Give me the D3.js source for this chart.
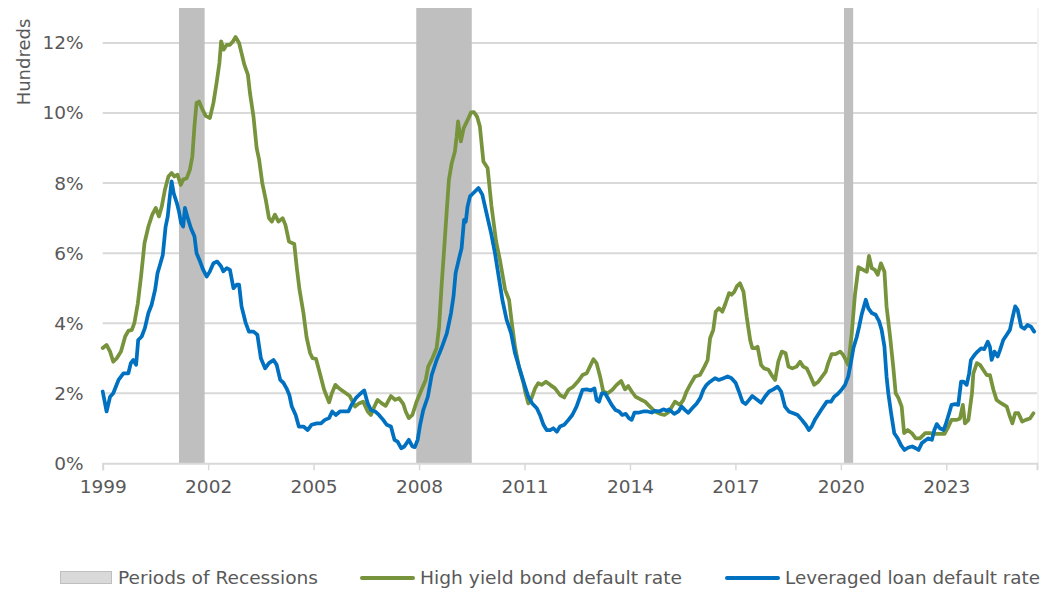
<!DOCTYPE html>
<html><head><meta charset="utf-8">
<script src="https://cdn.jsdelivr.net/npm/d3@7"></script>
<style>html,body{margin:0;padding:0;background:#fff;}svg{display:block;}</style>
</head><body>
<svg id="chart" width="1048" height="590"></svg>
<script>
// ---- data ----
const xTickYears = [1999, 2002, 2005, 2008, 2011, 2014, 2017, 2020, 2023];
const yTickValues = [0, 2, 4, 6, 8, 10, 12];
const recessionStarts = [2001.17, 2007.92, 2020.09];
const recessionEnds = [2001.9, 2009.5, 2020.35];
const legendLabels = ["Periods of Recessions", "High yield bond default rate", "Leveraged loan default rate"];

const hyYears = [1999.0,1999.11,1999.21,1999.3,1999.4,1999.52,1999.64,1999.73,1999.83,1999.9,2000.0,2000.09,2000.19,2000.3,2000.41,2000.51,2000.6,2000.68,2000.77,2000.87,2000.96,2001.04,2001.13,2001.22,2001.29,2001.39,2001.48,2001.55,2001.61,2001.67,2001.74,2001.84,2001.93,2002.05,2002.15,2002.24,2002.32,2002.37,2002.44,2002.53,2002.62,2002.71,2002.78,2002.88,2002.95,2003.03,2003.13,2003.19,2003.29,2003.38,2003.45,2003.54,2003.64,2003.73,2003.81,2003.9,2004.0,2004.12,2004.2,2004.3,2004.45,2004.52,2004.6,2004.71,2004.8,2004.9,2004.97,2005.07,2005.17,2005.3,2005.44,2005.52,2005.62,2005.75,2005.89,2006.03,2006.18,2006.29,2006.41,2006.54,2006.63,2006.73,2006.82,2006.94,2007.05,2007.2,2007.32,2007.43,2007.55,2007.62,2007.71,2007.81,2007.93,2008.07,2008.19,2008.26,2008.38,2008.5,2008.57,2008.64,2008.72,2008.79,2008.85,2008.93,2009.02,2009.07,2009.11,2009.19,2009.27,2009.38,2009.48,2009.56,2009.65,2009.73,2009.83,2009.95,2010.06,2010.19,2010.3,2010.45,2010.56,2010.64,2010.73,2010.84,2010.97,2011.03,2011.11,2011.2,2011.3,2011.39,2011.49,2011.61,2011.73,2011.87,2012.01,2012.13,2012.25,2012.39,2012.53,2012.65,2012.77,2012.86,2012.96,2013.05,2013.15,2013.24,2013.37,2013.5,2013.62,2013.75,2013.86,2013.95,2014.05,2014.16,2014.29,2014.43,2014.57,2014.71,2014.86,2014.98,2015.09,2015.14,2015.28,2015.42,2015.52,2015.61,2015.71,2015.85,2015.99,2016.12,2016.21,2016.28,2016.37,2016.44,2016.53,2016.63,2016.72,2016.82,2016.89,2016.97,2017.04,2017.13,2017.23,2017.32,2017.42,2017.48,2017.58,2017.63,2017.73,2017.82,2017.94,2018.03,2018.13,2018.22,2018.32,2018.43,2018.51,2018.62,2018.74,2018.84,2018.93,2019.03,2019.12,2019.24,2019.36,2019.47,2019.57,2019.64,2019.74,2019.85,2019.98,2020.07,2020.21,2020.31,2020.4,2020.5,2020.64,2020.74,2020.8,2020.88,2020.97,2021.05,2021.14,2021.24,2021.3,2021.4,2021.49,2021.56,2021.64,2021.73,2021.8,2021.9,2022.02,2022.13,2022.25,2022.4,2022.54,2022.68,2022.82,2022.95,2023.06,2023.15,2023.3,2023.39,2023.47,2023.53,2023.63,2023.73,2023.77,2023.87,2023.96,2024.05,2024.15,2024.24,2024.34,2024.43,2024.57,2024.72,2024.81,2024.88,2024.96,2025.05,2025.16,2025.26,2025.38,2025.48];
const hyRates = [3.29,3.38,3.19,2.9,3.0,3.19,3.62,3.78,3.81,4.0,4.57,5.33,6.29,6.76,7.1,7.29,7.05,7.33,7.81,8.19,8.29,8.19,8.24,7.95,8.1,8.14,8.38,8.76,9.62,10.29,10.33,10.1,9.92,9.86,10.29,10.86,11.43,12.05,11.81,11.95,11.95,12.05,12.17,12.0,11.71,11.38,11.1,10.57,9.9,9.0,8.67,8.0,7.52,7.0,6.9,7.1,6.9,7.0,6.8,6.33,6.26,5.6,4.95,4.3,3.6,3.15,3.0,2.98,2.6,2.1,1.74,2.0,2.24,2.12,2.02,1.92,1.62,1.71,1.76,1.48,1.38,1.62,1.81,1.71,1.64,1.92,1.81,1.86,1.7,1.48,1.29,1.38,1.76,2.1,2.38,2.76,3.0,3.29,3.9,5.05,6.2,7.24,8.1,8.57,8.9,9.33,9.76,9.19,9.57,9.8,10.02,10.03,9.9,9.62,8.62,8.43,7.35,6.35,5.81,4.95,4.67,4.0,3.33,2.76,2.29,2.0,1.71,1.86,2.14,2.29,2.24,2.33,2.24,2.14,1.95,1.88,2.1,2.19,2.35,2.52,2.57,2.76,2.97,2.86,2.48,2.05,2.0,2.1,2.24,2.35,2.11,2.21,2.05,1.9,1.83,1.76,1.62,1.48,1.41,1.38,1.45,1.52,1.76,1.67,1.81,2.05,2.24,2.48,2.52,2.76,2.95,3.57,3.81,4.33,4.43,4.33,4.57,4.86,4.81,4.9,5.05,5.14,4.9,4.19,3.52,3.29,3.29,3.33,2.81,2.71,2.67,2.52,2.38,2.9,3.19,3.14,2.76,2.71,2.76,2.9,2.76,2.71,2.52,2.24,2.33,2.48,2.62,2.86,3.12,3.12,3.19,3.09,2.81,3.71,4.8,5.6,5.52,5.47,5.92,5.57,5.52,5.38,5.71,5.47,4.48,3.62,2.76,2.0,1.86,1.62,0.86,0.95,0.86,0.71,0.71,0.86,0.86,0.84,0.84,0.84,1.05,1.24,1.24,1.28,1.67,1.14,1.24,2.0,2.57,2.86,2.81,2.67,2.52,2.52,2.1,1.81,1.71,1.62,1.33,1.14,1.43,1.43,1.19,1.24,1.28,1.43];

const llYears = [1999.0,1999.11,1999.21,1999.3,1999.45,1999.59,1999.73,1999.8,1999.87,1999.95,2000.01,2000.11,2000.2,2000.3,2000.39,2000.49,2000.56,2000.63,2000.71,2000.79,2000.85,2000.91,2000.96,2001.02,2001.11,2001.17,2001.23,2001.29,2001.34,2001.42,2001.51,2001.61,2001.67,2001.77,2001.86,2001.96,2002.05,2002.15,2002.26,2002.37,2002.43,2002.53,2002.62,2002.72,2002.81,2002.88,2002.95,2003.07,2003.16,2003.29,2003.4,2003.5,2003.62,2003.73,2003.86,2003.95,2004.05,2004.14,2004.23,2004.31,2004.38,2004.49,2004.58,2004.71,2004.83,2004.94,2005.09,2005.21,2005.32,2005.44,2005.53,2005.63,2005.75,2005.87,2005.99,2006.08,2006.2,2006.32,2006.44,2006.54,2006.63,2006.75,2006.86,2006.98,2007.08,2007.2,2007.3,2007.39,2007.49,2007.58,2007.71,2007.81,2007.88,2007.96,2008.03,2008.12,2008.25,2008.36,2008.5,2008.64,2008.79,2008.91,2008.98,2009.04,2009.14,2009.21,2009.28,2009.33,2009.38,2009.45,2009.54,2009.69,2009.8,2009.92,2010.05,2010.16,2010.28,2010.37,2010.49,2010.62,2010.73,2010.87,2011.0,2011.11,2011.22,2011.35,2011.44,2011.54,2011.63,2011.73,2011.82,2011.92,2012.01,2012.13,2012.25,2012.36,2012.48,2012.58,2012.65,2012.77,2012.89,2012.99,2013.05,2013.12,2013.2,2013.29,2013.39,2013.48,2013.59,2013.69,2013.78,2013.88,2013.97,2014.05,2014.13,2014.26,2014.38,2014.5,2014.62,2014.71,2014.82,2014.95,2015.07,2015.11,2015.26,2015.38,2015.47,2015.57,2015.66,2015.77,2015.9,2016.0,2016.09,2016.18,2016.28,2016.42,2016.53,2016.66,2016.78,2016.89,2017.01,2017.1,2017.2,2017.29,2017.39,2017.48,2017.6,2017.73,2017.84,2017.96,2018.08,2018.2,2018.3,2018.41,2018.53,2018.65,2018.77,2018.89,2019.0,2019.09,2019.17,2019.26,2019.38,2019.47,2019.6,2019.72,2019.81,2019.91,2020.02,2020.12,2020.21,2020.29,2020.36,2020.45,2020.52,2020.59,2020.71,2020.78,2020.88,2020.99,2021.09,2021.16,2021.24,2021.3,2021.35,2021.43,2021.52,2021.62,2021.71,2021.81,2021.92,2022.03,2022.13,2022.21,2022.3,2022.4,2022.49,2022.59,2022.66,2022.73,2022.82,2022.92,2022.98,2023.08,2023.15,2023.25,2023.34,2023.42,2023.49,2023.58,2023.65,2023.7,2023.8,2023.89,2023.99,2024.08,2024.18,2024.24,2024.29,2024.37,2024.46,2024.53,2024.62,2024.72,2024.81,2024.88,2024.96,2025.03,2025.13,2025.22,2025.31,2025.41,2025.5];
const llRates = [2.05,1.48,1.9,2.0,2.38,2.57,2.57,2.86,2.95,2.81,3.52,3.62,3.86,4.29,4.52,4.95,5.43,5.67,5.95,6.76,7.05,7.62,8.05,7.71,7.43,7.19,6.86,6.76,7.29,7.0,6.71,6.48,6.0,5.76,5.52,5.33,5.48,5.71,5.76,5.62,5.48,5.57,5.52,5.0,5.1,5.1,4.48,4.0,3.76,3.76,3.67,3.0,2.71,2.86,2.95,2.81,2.38,2.3,2.14,1.95,1.62,1.38,1.05,1.05,0.95,1.1,1.14,1.14,1.24,1.29,1.48,1.38,1.48,1.48,1.48,1.67,1.86,1.98,2.08,1.71,1.52,1.48,1.38,1.24,1.1,1.05,0.67,0.62,0.43,0.48,0.67,0.48,0.46,0.67,1.1,1.52,1.9,2.52,2.95,3.29,3.71,4.29,4.76,5.43,5.86,6.14,6.95,6.9,7.33,7.62,7.71,7.86,7.67,7.14,6.57,6.0,5.24,4.67,4.1,3.71,3.14,2.67,2.24,1.9,1.71,1.57,1.38,1.1,0.95,0.95,1.0,0.9,1.05,1.1,1.24,1.38,1.62,1.9,2.1,2.11,2.08,2.14,1.81,1.76,2.0,2.0,1.83,1.67,1.52,1.48,1.38,1.41,1.29,1.24,1.45,1.45,1.48,1.48,1.45,1.5,1.48,1.54,1.5,1.54,1.41,1.48,1.62,1.52,1.44,1.57,1.71,1.86,2.1,2.24,2.33,2.43,2.38,2.43,2.48,2.43,2.29,2.05,1.76,1.69,1.81,1.92,1.83,1.73,1.9,2.05,2.11,2.19,2.05,1.62,1.47,1.43,1.38,1.24,1.1,0.95,1.05,1.24,1.43,1.57,1.76,1.76,1.9,1.98,2.1,2.24,2.48,2.9,3.3,3.6,3.9,4.24,4.67,4.43,4.29,4.24,4.05,3.81,3.33,2.48,2.0,1.43,0.86,0.71,0.52,0.38,0.45,0.48,0.43,0.38,0.57,0.65,0.71,0.67,0.95,1.12,1.0,0.95,1.1,1.43,1.67,1.69,1.67,2.33,2.33,2.24,2.57,2.95,3.09,3.19,3.28,3.26,3.47,3.33,2.95,3.19,3.05,3.24,3.52,3.67,3.81,4.14,4.48,4.38,3.9,3.84,3.95,3.9,3.76];

// ---- layout ----
const plot = {left: 102.7, right: 1037, top: 8, bottom: 463.3};
const FONT = "'DejaVu Sans', Verdana, sans-serif";
const colors = {hy: "#77933C", ll: "#0070C0", grid: "#D9D9D9", rec: "#BFBFBF", text: "#595959"};

const svg = d3.select("#chart");
const x = d3.scaleLinear().domain([1999, 1999 + (plot.right - plot.left) / 35.15]).range([plot.left, plot.right]);
const y = d3.scaleLinear().domain([0, 13]).range([plot.bottom, plot.top]);

// gridlines
svg.append("g").selectAll("line").data(yTickValues.filter(v => v > 0)).join("line")
  .attr("x1", plot.left).attr("x2", plot.right)
  .attr("y1", d => y(d)).attr("y2", d => y(d))
  .attr("stroke", colors.grid).attr("stroke-width", 2);

// right border faint
svg.append("line").attr("x1", plot.right + 1).attr("x2", plot.right + 1)
  .attr("y1", plot.top).attr("y2", plot.bottom)
  .attr("stroke", "#F0F0F0").attr("stroke-width", 1.5);

// recessions
const recData = recessionStarts.map((s, i) => ({s, e: recessionEnds[i]}));
svg.append("g").selectAll("rect").data(recData).join("rect")
  .attr("x", d => x(d.s)).attr("width", d => x(d.e) - x(d.s))
  .attr("y", plot.top).attr("height", plot.bottom - plot.top)
  .attr("fill", colors.rec);

// x axis
const xAxis = d3.axisBottom(x).tickValues(xTickYears).tickFormat(d3.format("d")).tickSize(7).tickPadding(10);
const gx = svg.append("g").attr("transform", `translate(0,${plot.bottom})`).call(xAxis);
gx.select(".domain").attr("stroke", colors.grid).attr("stroke-width", 2);
gx.selectAll(".tick line").attr("stroke", colors.grid).attr("stroke-width", 1.5);
gx.selectAll("text").attr("fill", colors.text).style("font-family", FONT).style("font-size", "18.5px");

// y axis
const yAxis = d3.axisLeft(y).tickValues(yTickValues).tickFormat(d => d + "%").tickSize(0).tickPadding(19);
const gy = svg.append("g").attr("transform", `translate(${plot.left},0)`).call(yAxis);
gy.select(".domain").remove();
gy.selectAll("text").attr("fill", colors.text).style("font-family", FONT).style("font-size", "18.5px");

// axis title
svg.append("text").attr("transform", "translate(30,62) rotate(-90)")
  .attr("text-anchor", "middle").attr("fill", colors.text)
  .style("font-family", FONT).style("font-size", "18px").text("Hundreds");

// lines
const line = d3.line().x(d => x(d[0])).y(d => y(d[1]));
const hyData = hyYears.map((t, i) => [t, hyRates[i]]);
const llData = llYears.map((t, i) => [t, llRates[i]]);
svg.append("path").datum(hyData).attr("d", line).attr("fill", "none")
  .attr("stroke", colors.hy).attr("stroke-width", 3.75).attr("stroke-linejoin", "round").attr("stroke-linecap", "round");
svg.append("path").datum(llData).attr("d", line).attr("fill", "none")
  .attr("stroke", colors.ll).attr("stroke-width", 3.75).attr("stroke-linejoin", "round").attr("stroke-linecap", "round");

// legend
const lg = svg.append("g").style("font-family", FONT).style("font-size", "18px");
const ly = 578;
lg.append("rect").attr("x", 60.5).attr("y", ly - 6.5).attr("width", 51).attr("height", 12)
  .attr("fill", "#D9D9D9").attr("stroke", "#BFBFBF").attr("stroke-width", 1);
lg.append("text").attr("x", 118).attr("y", ly).attr("dy", "0.35em").attr("fill", colors.text)
  .attr("textLength", 200).attr("lengthAdjust", "spacingAndGlyphs").text(legendLabels[0]);
lg.append("line").attr("x1", 362).attr("x2", 413).attr("y1", ly).attr("y2", ly)
  .attr("stroke", colors.hy).attr("stroke-width", 4).attr("stroke-linecap", "round");
lg.append("text").attr("x", 420).attr("y", ly).attr("dy", "0.35em").attr("fill", colors.text)
  .attr("textLength", 262).attr("lengthAdjust", "spacingAndGlyphs").text(legendLabels[1]);
lg.append("line").attr("x1", 727).attr("x2", 778).attr("y1", ly).attr("y2", ly)
  .attr("stroke", colors.ll).attr("stroke-width", 4).attr("stroke-linecap", "round");
lg.append("text").attr("x", 785).attr("y", ly).attr("dy", "0.35em").attr("fill", colors.text)
  .attr("textLength", 255).attr("lengthAdjust", "spacingAndGlyphs").text(legendLabels[2]);
</script>
</body></html>
